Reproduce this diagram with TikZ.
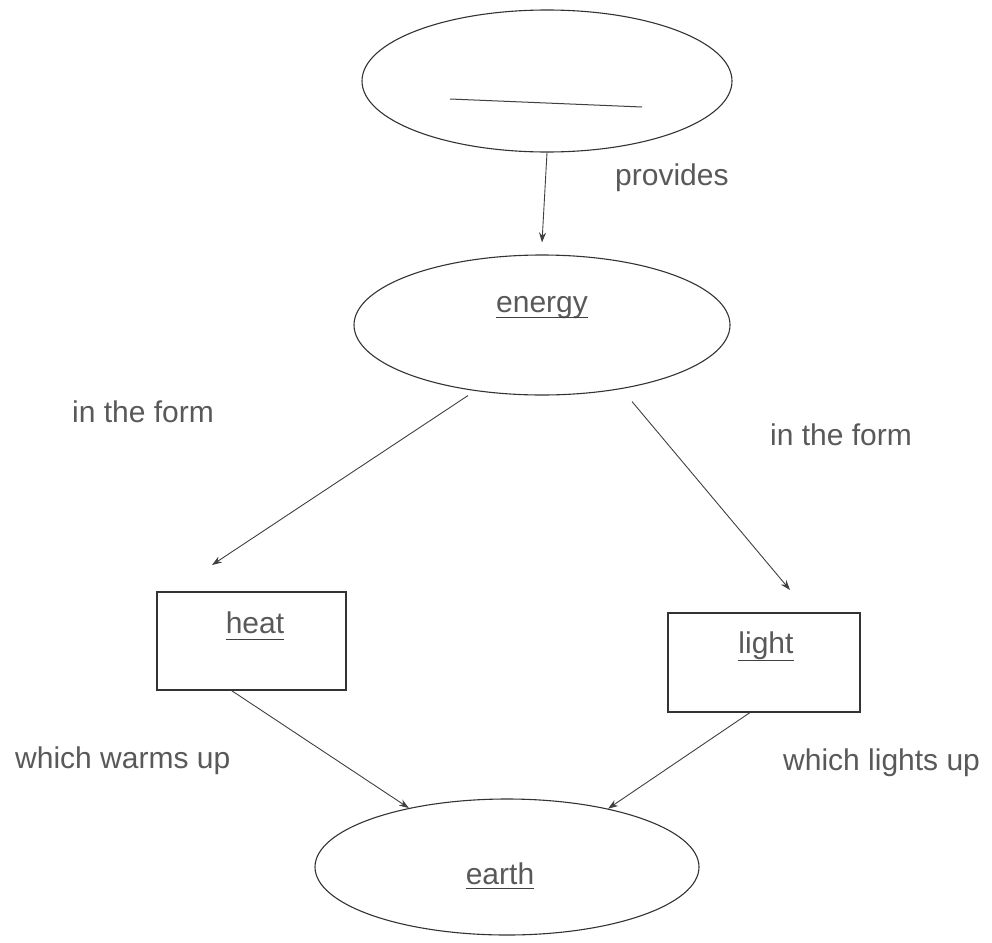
\documentclass[tikz,border=0pt]{standalone}
\usepackage{fontspec}
\setmainfont{Liberation Sans}
\usetikzlibrary{shapes.geometric,arrows.meta}
\begin{document}
\begin{tikzpicture}[x=1pt,y=-1pt,
  conc/.style={draw=black!80, line width=1.1pt, ellipse, inner sep=0pt},
  boxnode/.style={draw=black!80, line width=1.1pt, rectangle, inner sep=0pt},
  lbl/.style={text=black!65, font=\fontsize{30}{36}\selectfont, inner sep=0pt},
  link/.style={draw=black!75, line width=0.9pt, -{Stealth[length=10pt,width=7pt]}},
  uline/.style={draw=black!75, line width=1pt}]
\useasboundingbox (0,0) rectangle (992,942);
% shapes
\node[conc, minimum width=370pt, minimum height=142pt] (sun) at (547,81) {};
\node[conc, minimum width=376pt, minimum height=140pt] (energy) at (542,325) {};
\node[boxnode, minimum width=189pt, minimum height=98pt] (heat) at (251.5,641) {};
\node[boxnode, minimum width=192pt, minimum height=99pt] (light) at (764,662.5) {};
\node[conc, minimum width=384pt, minimum height=136pt] (earth) at (507,867) {};
% blank line in top ellipse
\coordinate (bl1) at (450,99);
\coordinate (bl2) at (642,107);
\draw[uline] (bl1) -- (bl2);
% node texts
\node[lbl, anchor=base] (energytxt) at (542,312) {energy};
\draw[uline] ([yshift=-5pt]energytxt.base west) -- ([yshift=-5pt]energytxt.base east);
\node[lbl, anchor=base] (heattxt) at (255,633) {heat};
\draw[uline] ([yshift=-6pt]heattxt.base west) -- ([yshift=-6pt]heattxt.base east);
\node[lbl, anchor=base] (lighttxt) at (766,653) {light};
\draw[uline] ([yshift=-7pt]lighttxt.base west) -- ([yshift=-7pt]lighttxt.base east);
\node[lbl, anchor=base] (earthtxt) at (500,884) {earth};
\draw[uline] ([yshift=-4pt]earthtxt.base west) -- ([yshift=-4pt]earthtxt.base east);
% connectors
\draw[link] (sun.south) -- ([yshift=12pt]energy.north);
\coordinate (heatin) at (212,565);
\draw[link] ([xshift=-74pt]energy.south) -- (heatin);
\coordinate (lightin) at (790,590);
\draw[link] ([xshift=90pt,yshift=-6pt]energy.south) -- (lightin);
\draw[link] ([xshift=-20pt]heat.south) -- (earth.149);
\draw[link] ([xshift=-14pt]light.south) -- (earth.30);
% connector labels
\node[lbl, anchor=base west] (provides) at (615,185) {provides};
\node[lbl, anchor=base west] (form1) at (72,422) {in the form};
\node[lbl, anchor=base west] (form2) at (770,445) {in the form};
\node[lbl, anchor=base west] (warms) at (15,768) {which warms up};
\node[lbl, anchor=base west] (lights) at (783,770) {which lights up};
\end{tikzpicture}
\end{document}
